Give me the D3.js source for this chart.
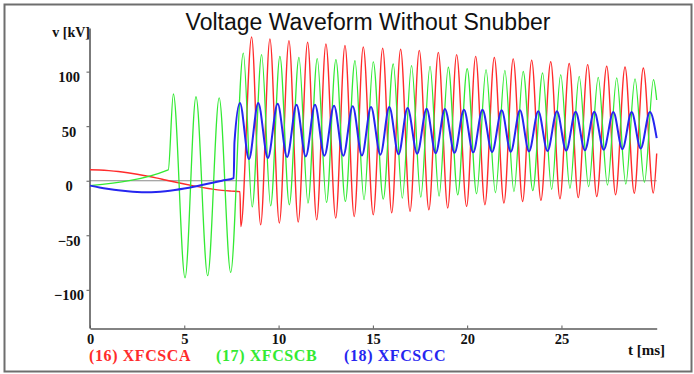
<!DOCTYPE html>
<html>
<head>
<meta charset="utf-8">
<script src="https://cdn.jsdelivr.net/npm/d3@7"></script>
<style>
  body { margin: 0; background: #fff; }
  svg { display: block; }
</style>
</head>
<body>
<div id="chart"></div>
<script>
// values (t in ms, v in kV), peaks and troughs in time order
const redT = [0, 0.5, 1, 1.5, 2, 2.5, 3, 3.5, 4, 4.5, 5, 5.5, 6, 6.5, 7, 7.5, 7.95, 8.0,
  8.57, 9.05, 9.54, 10.04, 10.55, 11.04, 11.54, 12.02, 12.51, 13.03, 13.52, 14.01, 14.49, 15.02,
  15.52, 16.0, 16.47, 16.97, 17.46, 17.97, 18.47, 18.97, 19.44, 19.97, 20.45, 20.94, 21.44, 21.95,
  22.44, 22.94, 23.42, 23.91, 24.43, 24.92, 25.41, 25.89, 26.39, 26.87, 27.4, 27.87, 28.37, 28.86,
  29.34, 29.87, 30.05];
const redV = [10, 9.8, 9.3, 8.5, 7.3, 5.9, 4.3, 2.6, 0.7, -1.2, -3, -4.7, -6.3, -7.7, -8.8, -9.5, -10, -42,
  131.8, -40.4, 130, -38.8, 128.4, -37.9, 126.9, -35.8, 125.4, -34.2, 123.9, -32.8, 122.6, -31.2,
  121.4, -29.5, 120.5, -28.1, 119.5, -26.6, 117.7, -25, 115.6, -23.5, 114, -22, 113, -20.5,
  111.7, -19, 110.5, -18, 109, -16.5, 107.5, -15.5, 106.4, -14.4, 105, -12.8, 104.3, -11.5,
  103.4, -11.3, 25];

const greenT = [0, 4.15, 4.42, 5.04, 5.62, 6.24, 6.85, 7.46,
  8.13, 8.6, 9.1, 9.58, 10.07, 10.57, 11.08, 11.56, 12.05, 12.54, 13.04, 13.54, 14.05, 14.53,
  15.02, 15.55, 16.08, 16.56, 17.05, 17.54, 18.03, 18.51, 19.0, 19.5, 20.0, 20.5, 21.0, 21.5,
  22.0, 22.48, 22.97, 23.48, 24.0, 24.48, 24.96, 25.45, 25.94, 26.44, 26.95, 27.44, 27.93, 28.41,
  28.9, 29.4, 29.88, 30.05];
const greenV = [-4.5, 10, 79.5, -89, 77, -87, 76, -84,
  117, -24, 115.6, -23, 114, -22, 113, -20.5, 112, -19.9, 111, -19, 110, -17.4,
  108.9, -16.8, 107, -16, 105.5, -15, 104.9, -14, 104, -13, 102.8, -12, 101.8, -11,
  101.2, -10, 100.3, -9, 98.8, -8, 97.2, -7, 95.7, -5.5, 94.8, -4, 94.2, -3,
  93.3, -1.5, 92.7, 74];

const blueT = [0, 0.5, 1, 1.5, 2, 2.5, 3, 3.5, 4, 4.5, 5, 5.5, 6, 6.5, 7, 7.62, 7.66,
  7.95, 8.43, 8.92, 9.43, 9.95, 10.45, 10.95, 11.44, 11.93, 12.43, 12.94, 13.43, 13.93, 14.42,
  14.9, 15.4, 15.87, 16.36, 16.84, 17.35, 17.85, 18.33, 18.82, 19.33, 19.83, 20.32, 20.81, 21.32,
  21.83, 22.31, 22.8, 23.28, 23.77, 24.26, 24.76, 25.25, 25.75, 26.24, 26.74, 27.24, 27.75, 28.23,
  28.72, 29.2, 29.69, 30.05];
const blueV = [-4.5, -6.2, -7.6, -8.8, -9.7, -10.3, -10.5, -10.3, -9.6, -8.5, -7.1, -5.5, -3.7, -1.8, 0, 2.4, 35,
  71.3, 19.9, 71.3, 20.8, 70.6, 21.7, 69.7, 22.3, 69.7, 22.9, 68.8, 22.9, 68.2, 23.2,
  67.6, 23.9, 67.6, 24.3, 66.7, 24.8, 66, 25.2, 65.8, 25.6, 65.1, 26, 65.1, 26.3,
  64.5, 26.6, 64.5, 26.9, 63.6, 27.3, 63.6, 27.6, 63.3, 28, 63.3, 28.5, 63, 29,
  63, 29.5, 63, 39];

const seriesNames = ["(16) XFCSCA", "(17) XFCSCB", "(18) XFCSCC"];
const seriesColors = ["#ff2b2b", "#33ea33", "#2626f0"];
const xTicks = [0, 5, 10, 15, 20, 25];
const yTicks = [-100, -50, 0, 50, 100];

const W = 694, H = 374;
const svg = d3.select("#chart").append("svg")
  .attr("width", W).attr("height", H);

// outer frame
svg.append("rect")
  .attr("x", 4.5).attr("y", 4.5).attr("width", 687).attr("height", 367)
  .attr("fill", "none").attr("stroke", "#6e6e6e").attr("stroke-width", 2);

const x = d3.scaleLinear().domain([0, 30.05]).range([90, 656.7]);
const y = d3.scaleLinear().domain([-135, 140]).range([328, 28]);

// title
svg.append("text")
  .attr("x", 368).attr("y", 30)
  .attr("text-anchor", "middle")
  .style("font-family", "'Liberation Sans', Arial, sans-serif")
  .style("font-size", "23px")
  .attr("fill", "#111")
  .text("Voltage Waveform Without Snubber");

// zero line
svg.append("line")
  .attr("x1", x(0)).attr("x2", x(30.05))
  .attr("y1", y(0)).attr("y2", y(0))
  .attr("stroke", "#8a8a8a").attr("stroke-width", 1.2);

const serif = "'Liberation Serif', 'Times New Roman', serif";

// y axis
const yAxis = svg.append("g")
  .attr("transform", "translate(89.5,0)")
  .call(d3.axisLeft(y).tickValues(yTicks).tickSize(3).tickSizeOuter(0).tickFormat(d3.format("d")));
yAxis.select(".domain").attr("stroke", "#5a5a5a").attr("stroke-width", 1.6);
yAxis.selectAll(".tick line").attr("stroke", "#5a5a5a");
yAxis.selectAll(".tick text")
  .attr("x", -20.5).attr("dy", "10px").attr("text-anchor", "middle")
  .style("font-family", serif).style("font-size", "14.5px").style("font-weight", "bold")
  .attr("fill", "#111");

// x axis
const xAxis = svg.append("g")
  .attr("transform", "translate(0,328.5)")
  .call(d3.axisBottom(x).tickValues(xTicks).tickSizeInner(-3).tickSizeOuter(0).tickFormat(d3.format("d")));
xAxis.select(".domain").attr("stroke", "#5a5a5a").attr("stroke-width", 1.6);
xAxis.selectAll(".tick line").attr("stroke", "#5a5a5a");
xAxis.selectAll(".tick text")
  .attr("y", 15.5).attr("dy", 0)
  .style("font-family", serif).style("font-size", "14.5px").style("font-weight", "bold")
  .attr("fill", "#111");

// axis titles
svg.append("text")
  .attr("x", 90).attr("y", 37).attr("text-anchor", "end")
  .style("font-family", serif).style("font-size", "14px").style("font-weight", "bold")
  .attr("fill", "#111").text("v [kV]");
svg.append("text")
  .attr("x", 628).attr("y", 355)
  .style("font-family", serif).style("font-size", "15px").style("font-weight", "bold")
  .attr("fill", "#111").text("t [ms]");

// waveforms
const line = d3.line()
  .x(d => x(d[0]))
  .y(d => y(d[1]))
  .curve(d3.curveMonotoneX);

const series = [
  { t: redT, v: redV, w: 1.4 },
  { t: greenT, v: greenV, w: 1.3 },
  { t: blueT, v: blueV, w: 2 }
];

series.forEach((s, i) => {
  svg.append("path")
    .datum(d3.zip(s.t, s.v))
    .attr("fill", "none")
    .attr("stroke", seriesColors[i])
    .attr("stroke-width", s.w)
    .attr("stroke-linejoin", "round")
    .attr("d", line);
});

// legend
const legendX = [89, 216, 344];
svg.selectAll(".legend")
  .data(seriesNames)
  .enter()
  .append("text")
  .attr("class", "legend")
  .attr("x", (d, i) => legendX[i])
  .attr("y", 360.5)
  .style("font-family", serif).style("font-size", "16px").style("font-weight", "bold")
  .style("letter-spacing", "0.6px")
  .attr("fill", (d, i) => seriesColors[i])
  .text(d => d);
</script>
</body>
</html>
